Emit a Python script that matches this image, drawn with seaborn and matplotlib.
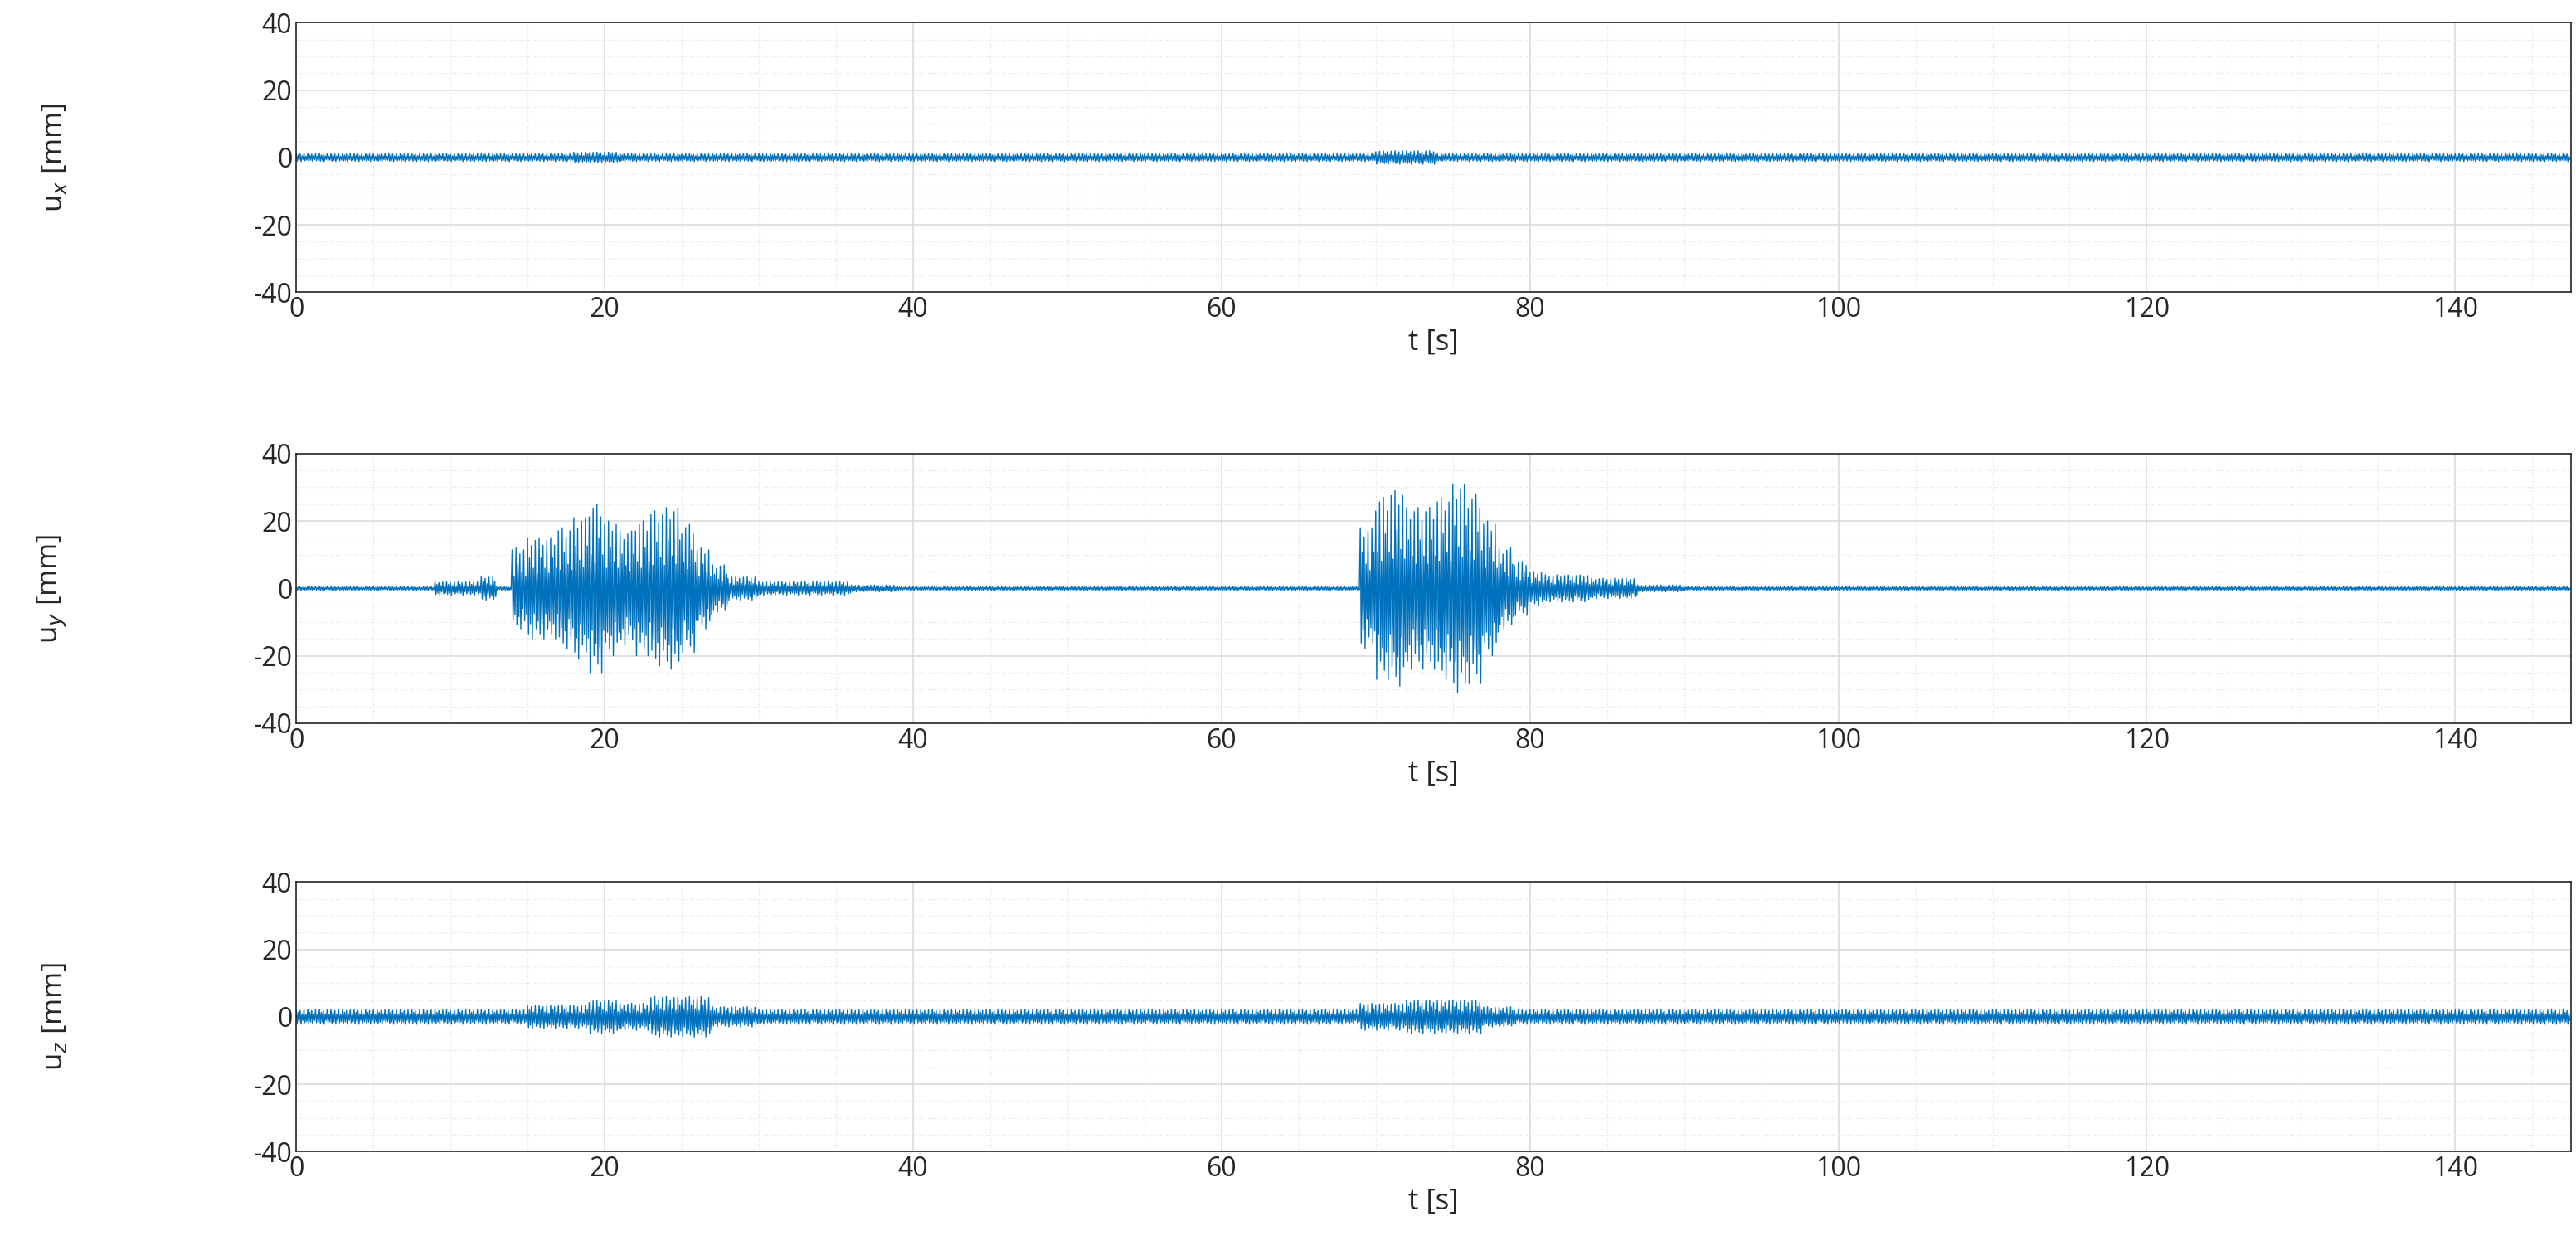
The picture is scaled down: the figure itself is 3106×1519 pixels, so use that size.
import numpy as np
import pandas as pd
import seaborn as sns
import matplotlib.pyplot as plt
from matplotlib.ticker import MultipleLocator

# per-second peak amplitude [mm] as (start s, end s, amplitude)
ux_env = [(0, 148, 1.2), (18, 21, 1.6), (70, 74, 2.0)]
uy_env = [(0, 148, 0.6), (9, 12, 2.0), (12, 13, 3.5), (14, 15, 12), (15, 17, 15),
          (17, 18, 18), (18, 19, 21), (19, 20, 25), (20, 21, 20), (21, 22, 17),
          (22, 23, 20), (23, 24, 23), (24, 25, 24), (25, 26, 19), (26, 27, 12),
          (27, 28, 7), (28, 30, 3.5), (30, 36, 2), (36, 39, 1), (69, 70, 18),
          (70, 71, 27), (71, 72, 29), (72, 74, 24), (74, 75, 27), (75, 76, 31),
          (76, 77, 28), (77, 78, 20), (78, 79, 12), (79, 80, 8), (80, 81, 5),
          (81, 84, 4), (84, 87, 3), (87, 90, 1)]
uz_env = [(0, 148, 2.2), (15, 19, 3.5), (19, 21, 5), (21, 23, 4), (23, 27, 6),
          (27, 30, 3), (69, 72, 4), (72, 77, 5), (77, 79, 3)]
# relative size of successive swings
swing = [1.0, 0.9, 0.6, 0.7, 0.85, 1.0, 0.4, 0.5, 0.95, 0.8, 0.3, 0.65]

names = ["u$_x$ [mm]", "u$_y$ [mm]", "u$_z$ [mm]"]
envs = [ux_env, uy_env, uz_env]

rate = 16
t = np.arange(0, 147.5, 1 / rate)


def build(env):
    amp = np.zeros_like(t)
    for a, b, v in env:
        amp[(t >= a) & (t < b)] = v
    idx = np.arange(len(t))
    sign = np.where(idx % 2 == 0, 1.0, -1.0)
    rel = np.array(swing)[idx % len(swing)]
    return pd.DataFrame({"t": t, "u": amp * sign * rel})


sns.set_style("white")
plt.rcParams["font.family"] = ["Open Sans", "DejaVu Sans"]
plt.rcParams["axes.unicode_minus"] = False

fig = plt.figure(figsize=(31.06, 15.19), dpi=100)
bottoms = [0.768, 0.426, 0.086]
for env, name, b in zip(envs, names, bottoms):
    ax = fig.add_axes([0.115, b, 0.883, 0.214])
    sns.lineplot(data=build(env), x="t", y="u", ax=ax, color="#0072BD",
                 linewidth=1.0, estimator=None)
    ax.set_xlim(0, 147.5)
    ax.set_ylim(-40, 40)
    ax.xaxis.set_major_locator(MultipleLocator(20))
    ax.xaxis.set_minor_locator(MultipleLocator(5))
    ax.yaxis.set_major_locator(MultipleLocator(20))
    ax.yaxis.set_minor_locator(MultipleLocator(5))
    ax.grid(which="major", color="#dcdcdc", linewidth=1.2)
    ax.grid(which="minor", color="#e4e4e4", linewidth=1.0, linestyle=":")
    ax.set_axisbelow(True)
    ax.tick_params(labelsize=23, colors="#262626", direction="in", length=6)
    ax.tick_params(which="minor", direction="in", length=3)
    for s in ax.spines.values():
        s.set_color("#262626")
        s.set_linewidth(1.2)
    ax.set_xlabel("t [s]", fontsize=25, color="#262626")
    ax.set_ylabel(name, fontsize=25, color="#262626")
    ax.yaxis.set_label_coords(-0.1, 0.5)

fig.savefig("out.png", dpi=100)
